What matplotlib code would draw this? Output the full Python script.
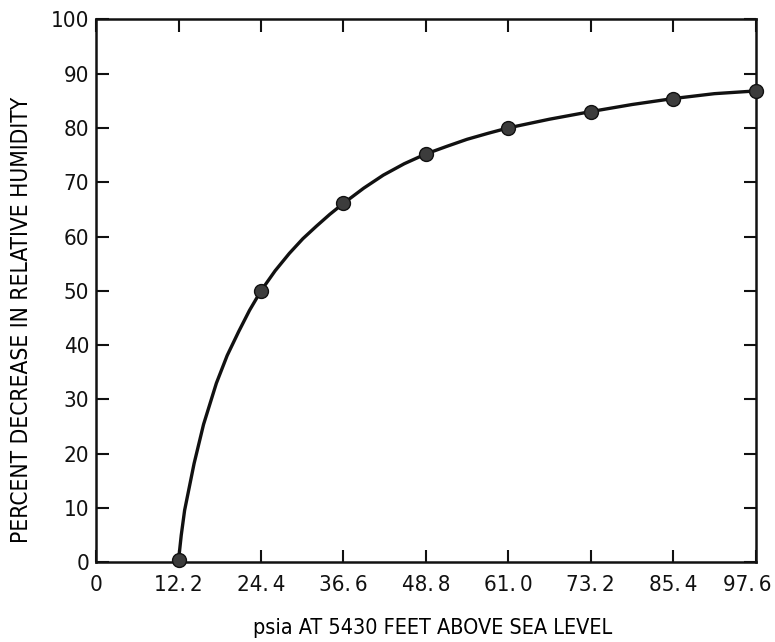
import matplotlib
matplotlib.use('Agg')
import matplotlib.pyplot as plt
import matplotlib.transforms as mtransforms
from matplotlib import font_manager as fm

# pick a narrow sans font if one is installed
entries = fm.fontManager.ttflist
names = {f.name for f in entries}
if 'Liberation Sans Narrow' in names:
    plt.rcParams['font.family'] = ['Liberation Sans Narrow', 'DejaVu Sans']
elif any(f.name == 'DejaVu Sans' and 'condensed' in str(f.stretch) for f in entries):
    plt.rcParams['font.family'] = ['DejaVu Sans']
    plt.rcParams['font.stretch'] = 'condensed'
elif 'Roboto Condensed' in names:
    plt.rcParams['font.family'] = ['Roboto Condensed', 'DejaVu Sans']
else:
    plt.rcParams['font.family'] = ['Roboto', 'DejaVu Sans']

# Measured points (pressure in psia, percent decrease)
pressure = [12.2, 24.4, 36.6, 48.8, 61.0, 73.2, 85.4, 97.6]
decrease = [0.4, 50.0, 66.1, 75.2, 80.0, 83.0, 85.4, 86.8]

# Drawn curve
curve_x = [12.2, 12.6, 13.1, 14.5, 15.9, 17.8, 19.4, 21.1, 22.7, 24.4,
           26.5, 28.6, 30.6, 32.6, 34.6, 36.6, 39.6, 42.5, 45.6, 48.8,
           51.9, 54.9, 58.0, 61.0, 67.1, 73.2, 79.3, 85.4, 91.5, 97.6]
curve_y = [0.4, 5.0, 9.6, 18.2, 25.4, 33.0, 38.1, 42.5, 46.4, 50.0,
           53.7, 56.9, 59.6, 61.9, 64.1, 66.1, 68.9, 71.3, 73.4, 75.2,
           76.6, 77.9, 79.0, 80.0, 81.6, 83.0, 84.3, 85.4, 86.3, 86.8]

xticks = [0, 12.2, 24.4, 36.6, 48.8, 61.0, 73.2, 85.4, 97.6]
xticklabels = ['0', '12.\u20092', '24.\u20094', '36.\u20096', '48.\u20098',
               '61.\u20090', '73.\u20092', '85.\u20094', '97.\u20096']
yticks = list(range(0, 101, 10))

fig = plt.figure(figsize=(7.75, 6.42), dpi=100)
ax = fig.add_axes([0.124, 0.124, 0.851, 0.846])

ax.plot(curve_x, curve_y, color='#111111', linewidth=2.4, solid_joinstyle='round',
        solid_capstyle='round', zorder=2)
ax.plot(pressure, decrease, linestyle='none', marker='o', markersize=10,
        markerfacecolor='#3c3c3c', markeredgecolor='#111111', markeredgewidth=1.0,
        zorder=3, clip_on=False)

ax.set_xlim(0, 97.6)
ax.set_ylim(0, 100)
ax.set_xticks(xticks)
ax.set_xticklabels(xticklabels)
ax.set_yticks(yticks)

ax.tick_params(axis='both', direction='in', length=9, width=1.5, labelsize=16,
               top=True, right=True, colors='#111111')
ax.tick_params(axis='x', pad=9)
ax.tick_params(axis='y', pad=5)
for s in ax.spines.values():
    s.set_linewidth(1.8)
    s.set_color('#111111')

# last x label sits a bit left of its tick, as in the original
last = ax.get_xticklabels()[-1]
last.set_transform(last.get_transform() +
                   mtransforms.ScaledTranslation(-8 / 100, 0, fig.dpi_scale_trans))

ax.set_xlabel('psia AT 5430 FEET ABOVE SEA LEVEL', fontsize=15.5)
ax.set_ylabel('PERCENT DECREASE IN RELATIVE HUMIDITY', fontsize=16.3)
ax.xaxis.set_label_coords(0.51, -0.102)
ax.yaxis.set_label_coords(-0.095, 0.447)

fig.savefig('out.png', dpi=100)
